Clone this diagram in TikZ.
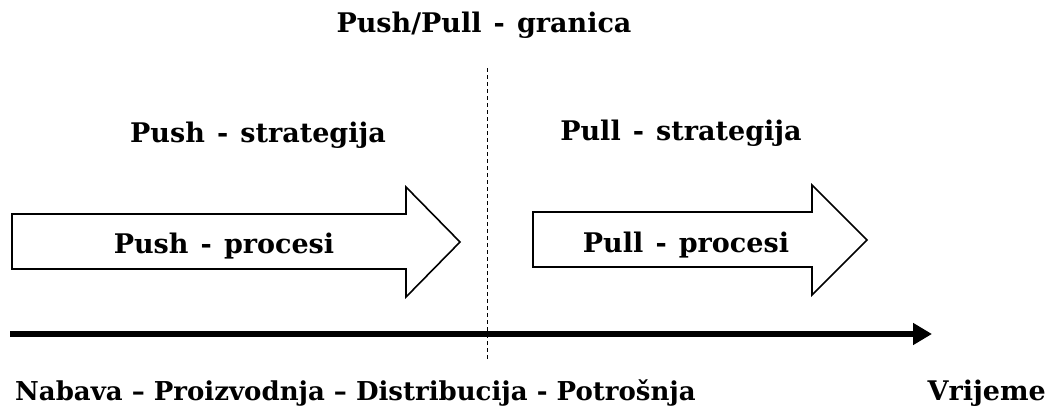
\documentclass[tikz,border=0pt]{standalone}
\usepackage{fontspec}
\setmainfont{DejaVu Serif}
\usetikzlibrary{arrows.meta}

\begin{document}
\begin{tikzpicture}[x=1pt,y=-1pt,
    lbl/.style={font=\bfseries\fontsize{27}{30}\selectfont, inner sep=0pt, anchor=base},
    blockarrow/.style={draw=black, line width=1.6pt, fill=white, line join=miter}]
    \def\ax{334}
    \def\sep{\hspace{0.45em}-\hspace{0.45em}}
    \useasboundingbox (0,0) rectangle (1054,407);
    % titles
    \node[lbl] (border) at (484,32) {Push/Pull\sep granica};
    \node[lbl] (pushstr) at (258,142) {Push\sep strategija};
    \node[lbl] (pullstr) at (681,140) {Pull\sep strategija};
    % block arrows
    \draw[blockarrow] (12,214) -- (406,214) -- (406,187) -- (460,242)
        -- (406,297) -- (406,269) -- (12,269) -- cycle;
    \draw[blockarrow] (533,212) -- (812,212) -- (812,185) -- (867,240)
        -- (812,295) -- (812,267) -- (533,267) -- cycle;
    \node[lbl] (pushproc) at (224,253) {Push\sep procesi};
    \node[lbl] (pullproc) at (686,252) {Pull\sep procesi};
    % border line
    \coordinate (btop) at (487,68);
    \coordinate (bbot) at (487,360);
    \draw[dash pattern=on 4pt off 3pt, line width=0.8pt] (btop) -- (bbot);
    % time axis
    \coordinate (tstart) at (10,\ax);
    \coordinate (tend) at (932,\ax);
    \draw[line width=5.5pt, -{Triangle[length=19pt,width=21pt]}] (tstart) -- (tend);
    \node[lbl, anchor=base west, font=\bfseries\fontsize{26}{30}\selectfont] (chain) at (15,400)
        {Nabava – Proizvodnja – Distribucija - Potrošnja};
    \node[lbl, anchor=base east] (time) at (1046,400) {Vrijeme};
\end{tikzpicture}
\end{document}
